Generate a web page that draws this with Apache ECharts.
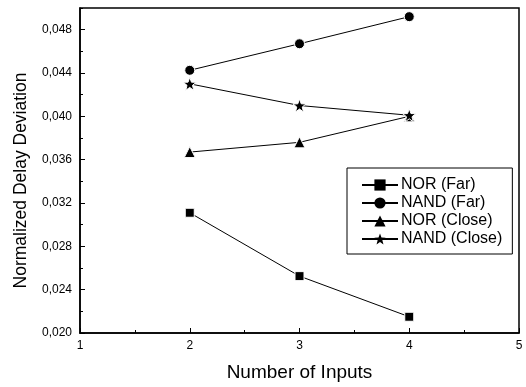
<!DOCTYPE html>
<html>
<head>
<meta charset="utf-8">
<script src="https://cdn.jsdelivr.net/npm/echarts@6/dist/echarts.min.js"></script>
<style>
  html, body { margin: 0; padding: 0; background: #fff; }
  #chart { width: 526px; height: 387px; }
</style>
</head>
<body>
<div id="chart"></div>
<script>
  // number of inputs
  var inputs = [2, 3, 4];
  var norFar = [0.0311, 0.02525, 0.0215];
  var nandFar = [0.04425, 0.0467, 0.0492];
  var norClose = [0.0367, 0.0376, 0.0400];
  var nandClose = [0.0430, 0.0410, 0.0401];

  var starPath = 'path://M50,0 L63,36 L100,37 L71,60 L81,97 L50,75 L19,97 L29,60 L0,37 L37,36 Z';

  function pairs(vals) {
    return inputs.map(function (x, i) { return [x, vals[i]]; });
  }

  function mkSeries(name, vals, symbol, size) {
    return {
      name: name,
      type: 'line',
      data: pairs(vals),
      symbol: symbol,
      symbolSize: size,
      showAllSymbol: true,
      lineStyle: { color: '#000', width: 1 },
      itemStyle: { color: '#000', borderColor: '#fff', borderWidth: 1 },
      emphasis: { disabled: true },
      animation: false
    };
  }

  var myChart = echarts.init(document.getElementById('chart'));
  var fmt = function (v) { return v.toFixed(3).replace('.', ','); };
  var option = {
    backgroundColor: '#fff',
    textStyle: { fontFamily: 'Liberation Sans' },
    grid: {
      left: 80, right: 7, top: 8, bottom: 53,
      show: true, borderColor: '#000', borderWidth: 1.5
    },
    legend: {
      orient: 'vertical',
      left: 347, top: 168,
      width: 165,
      padding: [9, 10, 7, 14],
      itemWidth: 36, itemHeight: 14, itemGap: 2,
      backgroundColor: '#fff',
      borderColor: '#000', borderWidth: 1, borderRadius: 0,
      itemStyle: { borderWidth: 0 },
      textStyle: { fontSize: 16, color: '#000', fontFamily: 'Liberation Sans', padding: [0, 0, 0, -2] },
      data: ['NOR (Far)', 'NAND (Far)', 'NOR (Close)', 'NAND (Close)']
    },
    xAxis: {
      type: 'value', min: 1, max: 5, interval: 1,
      name: 'Number of Inputs', nameLocation: 'middle', nameGap: 30,
      nameTextStyle: { fontSize: 19, color: '#000' },
      axisLine: { lineStyle: { color: '#000', width: 1.5 } },
      axisTick: { inside: true, length: 5, lineStyle: { color: '#000' } },
      minorTick: { show: true, splitNumber: 2, length: 3, lineStyle: { color: '#000' } },
      splitLine: { show: false },
      axisLabel: { fontSize: 12, color: '#000', margin: 7 }
    },
    yAxis: [{
      type: 'value', min: 0.020, max: 0.050, interval: 0.004,
      name: 'Normalized Delay Deviation', nameLocation: 'middle', nameGap: 50,
      nameTextStyle: { fontSize: 17.5, color: '#000', padding: [0, 20, 0, 0] },
      axisLine: { lineStyle: { color: '#000', width: 1.5 } },
      axisTick: { inside: true, length: 5, lineStyle: { color: '#000' } },
      splitLine: { show: false },
      axisLabel: { fontSize: 12, color: '#000', margin: 8, formatter: fmt, showMaxLabel: false }
    }, {
      // minor ticks only
      type: 'value', min: 0.020, max: 0.050, interval: 0.002, position: 'left',
      axisLine: { show: false },
      axisTick: { inside: true, length: 3, lineStyle: { color: '#000' } },
      axisLabel: { show: false },
      splitLine: { show: false }
    }],
    series: [
      mkSeries('NOR (Far)', norFar, 'rect', 9),
      mkSeries('NAND (Far)', nandFar, 'circle', 10),
      mkSeries('NOR (Close)', norClose, 'triangle', 11),
      mkSeries('NAND (Close)', nandClose, starPath, 13)
    ]
  };
  myChart.setOption(option);
</script>
</body>
</html>
